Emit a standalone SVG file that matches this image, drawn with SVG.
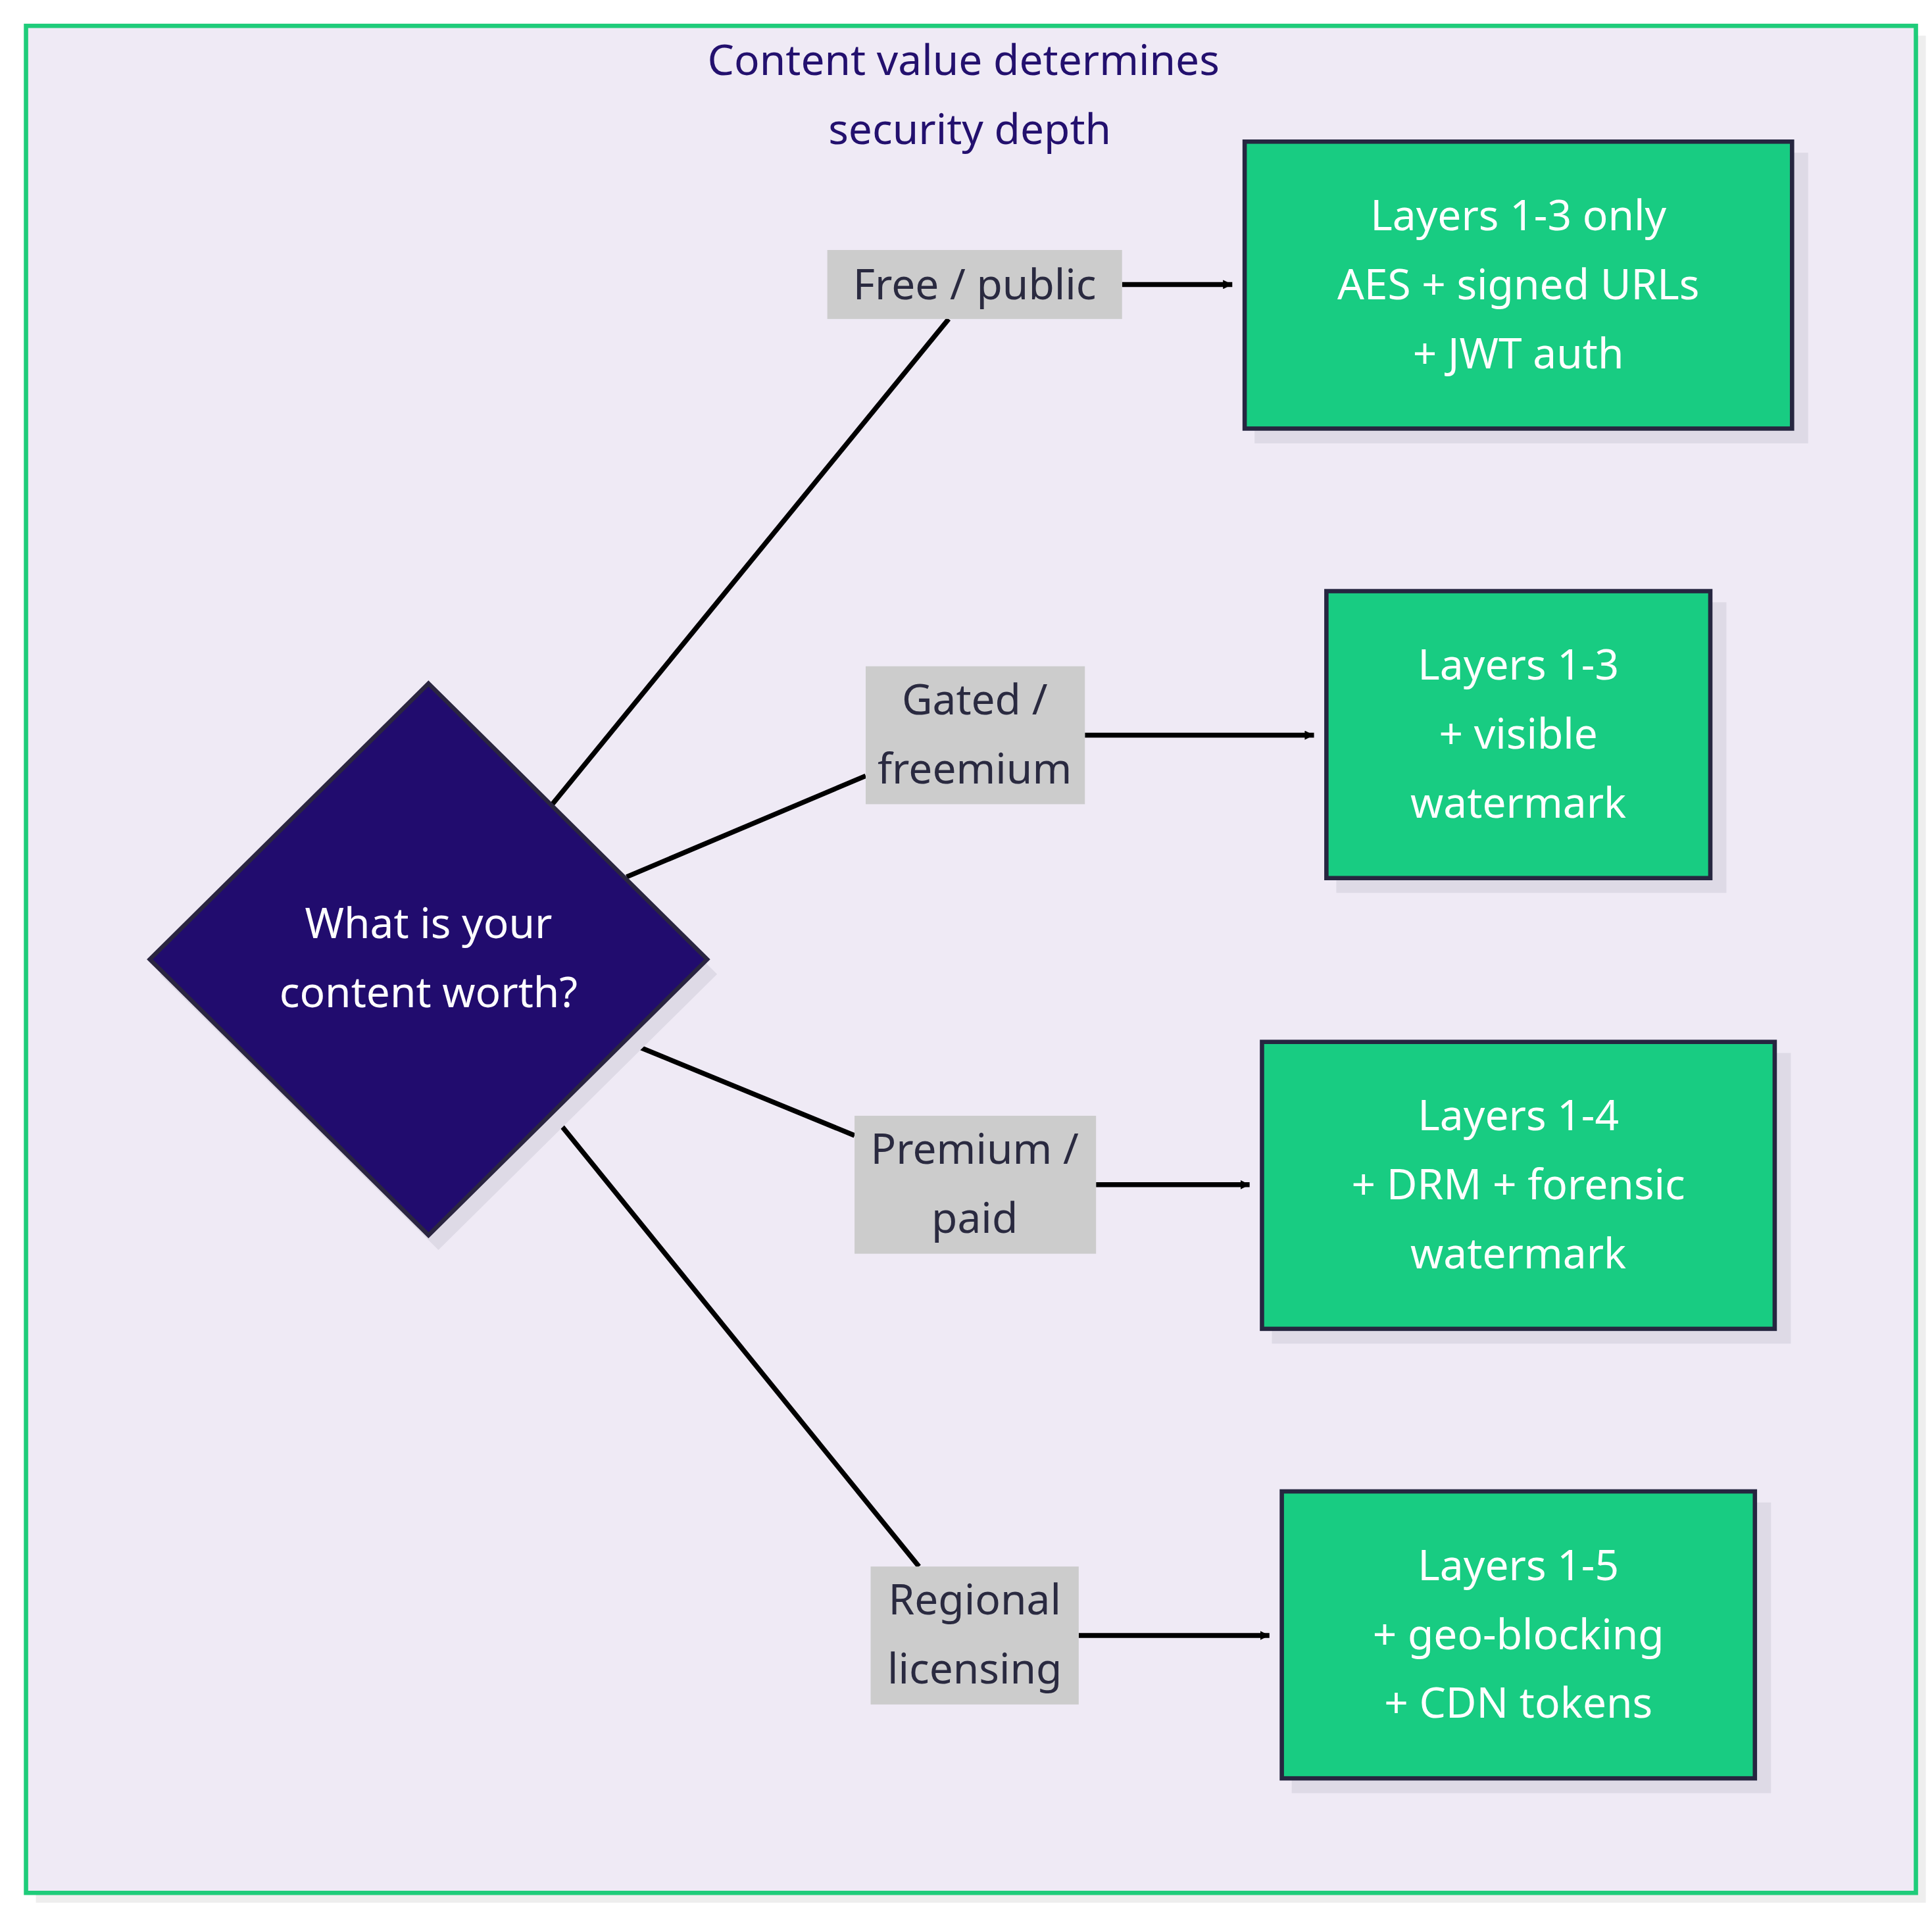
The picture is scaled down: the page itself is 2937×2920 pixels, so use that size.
<svg xmlns="http://www.w3.org/2000/svg" width="2937" height="2920" viewBox="0 0 2937 2920">
<style>
text{font-family:"Noto Sans","Liberation Sans",sans-serif;font-size:34px;text-anchor:middle}
.w{fill:#ffffff}
.l{fill:#2a2a40}
.box{fill:#18cc82;stroke:#262640;stroke-width:3.5}
.sh{fill:#dedae6}
.lab{fill:#cccccc}
.e{stroke:#000;stroke-width:4;fill:none}
</style>
<defs>
<marker id="ah" viewBox="0 0 10 10" refX="10" refY="5" markerWidth="7.5" markerHeight="7.5" markerUnits="userSpaceOnUse" orient="auto">
<path d="M0,0 L10,5 L0,10 z" fill="#000"/>
</marker>
</defs>
<rect width="2937" height="2920" fill="#ffffff"/>
<g transform="scale(1.8827,1.872)">
<g id="cluster">
<rect x="29" y="29" width="1526" height="1516" fill="#eeeeee"/>
<rect x="21" y="21" width="1526" height="1516" fill="#efeaf5" stroke="#1fcc7a" stroke-width="3.5"/>
<text x="778" y="61" fill="#23106e">Content value determines</text>
<text x="783" y="117" fill="#23106e">security depth</text>
</g>
<g id="edges">
<line class="e" x1="446" y1="653" x2="766" y2="259"/>
<line class="e" x1="906" y1="231" x2="995" y2="231" marker-end="url(#ah)" style="marker-end:url(#ah)"/>
<line class="e" x1="506" y1="712" x2="699" y2="630"/>
<line class="e" x1="876" y1="597" x2="1061" y2="597" marker-end="url(#ah)"/>
<line class="e" x1="506" y1="846" x2="690" y2="922"/>
<line class="e" x1="885" y1="962" x2="1009" y2="962" marker-end="url(#ah)"/>
<line class="e" x1="446" y1="905" x2="742" y2="1272"/>
<line class="e" x1="871" y1="1328" x2="1025" y2="1328" marker-end="url(#ah)"/>
</g>
<g id="labels">
<rect class="lab" x="668" y="203" width="238" height="56"/>
<text class="l" x="787" y="243">Free / public</text>
<rect class="lab" x="699" y="541" width="177" height="112"/>
<text class="l" x="787" y="580">Gated /</text>
<text class="l" x="787" y="636">freemium</text>
<rect class="lab" x="690" y="906" width="195" height="112"/>
<text class="l" x="787" y="945">Premium /</text>
<text class="l" x="787" y="1001">paid</text>
<rect class="lab" x="703" y="1272" width="168" height="112"/>
<text class="l" x="787" y="1311">Regional</text>
<text class="l" x="787" y="1367">licensing</text>
</g>
<g id="decision">
<polygon class="sh" points="354,567 579,791 354,1015 129,791"/>
<polygon points="346,555 571,779 346,1003 121,779" fill="#210c6e" stroke="#2a2540" stroke-width="3.5"/>
<text class="w" x="346" y="762">What is your</text>
<text class="w" x="346" y="818">content worth?</text>
</g>
<g id="n1">
<rect class="sh" x="1013" y="124" width="447" height="236"/>
<rect class="box" x="1005" y="115" width="442" height="233"/>
<text class="w" x="1226" y="187">Layers 1-3 only</text>
<text class="w" x="1226" y="243">AES + signed URLs</text>
<text class="w" x="1226" y="299">+ JWT auth</text>
</g>
<g id="n2">
<rect class="sh" x="1079" y="489" width="315" height="236"/>
<rect class="box" x="1071" y="480" width="310" height="233"/>
<text class="w" x="1226" y="552">Layers 1-3</text>
<text class="w" x="1226" y="608">+ visible</text>
<text class="w" x="1226" y="664">watermark</text>
</g>
<g id="n3">
<rect class="sh" x="1027" y="855" width="419" height="236"/>
<rect class="box" x="1019" y="846" width="414" height="233"/>
<text class="w" x="1226" y="918">Layers 1-4</text>
<text class="w" x="1226" y="974">+ DRM + forensic</text>
<text class="w" x="1226" y="1030">watermark</text>
</g>
<g id="n4">
<rect class="sh" x="1043" y="1220" width="387" height="236"/>
<rect class="box" x="1035" y="1211" width="382" height="233"/>
<text class="w" x="1226" y="1283">Layers 1-5</text>
<text class="w" x="1226" y="1339">+ geo-blocking</text>
<text class="w" x="1226" y="1395">+ CDN tokens</text>
</g>
</g>
</svg>
